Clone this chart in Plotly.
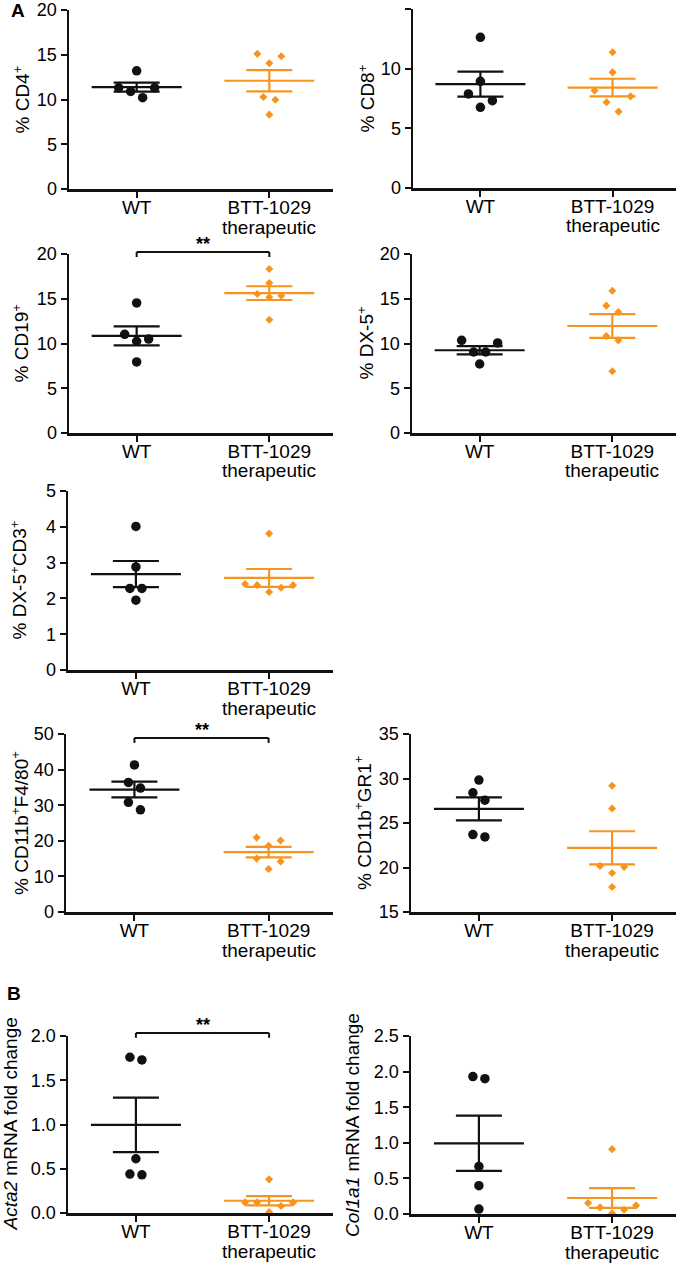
import numpy as np
import plotly.graph_objects as go

W, H = 686, 1288
BLACK = "#111111"
ORANGE = "#F7941D"
FONT = "Liberation Sans, Arial, Helvetica, sans-serif"

# ---------------- data ----------------
groups = ["WT", "BTT-1029"]
group_sub = ["", "therapeutic"]   # second line of the category label

cd4_wt = [13.2, 11.3, 11.3, 10.9, 10.2]
cd4_btt = [15.1, 14.84, 14.06, 10.28, 9.98, 8.31]
cd8_wt = [12.63, 8.94, 7.88, 7.32, 6.76]
cd8_btt = [11.37, 9.69, 8.16, 7.68, 7.18, 6.4]
cd19_wt = [14.53, 11.03, 10.5, 10.25, 7.94]
cd19_btt = [18.32, 16.76, 15.53, 15.34, 15.16, 12.66]
dx5_wt = [10.35, 10.06, 9.05, 9.05, 7.71]
dx5_btt = [15.9, 14.23, 13.52, 10.84, 10.35, 6.9]
dx5cd3_wt = [4.01, 2.88, 2.28, 2.28, 1.95]
dx5cd3_btt = [3.81, 2.4, 2.37, 2.37, 2.3, 2.18]
f480_wt = [41.3, 36.4, 34.8, 30.8, 28.7]
f480_btt = [20.9, 20.1, 18.6, 15.0, 14.2, 12.1]
gr1_wt = [29.82, 28.4, 27.57, 23.7, 23.44]
gr1_btt = [29.18, 26.63, 20.18, 20.07, 19.39, 17.81]
acta2_wt = [1.76, 1.73, 0.613, 0.44, 0.432]
acta2_btt = [0.38, 0.12, 0.12, 0.12, 0.08, 0.01]
col1a1_wt = [1.93, 1.90, 0.668, 0.397, 0.07]
col1a1_btt = [0.911, 0.154, 0.121, 0.093, 0.06, 0.01]

# ---------------- panel layout (page pixel boxes: x0, x1, ytop, ybottom) ----------------
panels = [
    dict(wt=cd4_wt, btt=cd4_btt, title="% CD4<sup>+</sup>", yr=[0, 20], dt=5, fmt="",
         box=(69, 333, 10, 189), tx=22),
    dict(wt=cd8_wt, btt=cd8_btt, title="% CD8<sup>+</sup>", yr=[0, 15], dt=5, fmt="",
         box=(413, 676, 9, 188), tx=366),
    dict(wt=cd19_wt, btt=cd19_btt, title="% CD19<sup>+</sup>", yr=[0, 20], dt=5, fmt="",
         box=(69, 333, 254, 433), tx=20, sig=(1.011, 0.983)),
    dict(wt=dx5_wt, btt=dx5_btt, title="% DX-5<sup>+</sup>", yr=[0, 20], dt=5, fmt="",
         box=(412, 676, 254, 433), tx=365),
    dict(wt=dx5cd3_wt, btt=dx5cd3_btt, title="% DX-5<sup>+</sup>CD3<sup>+</sup>", yr=[0, 5], dt=1, fmt="",
         box=(68, 333, 491, 670), tx=18),
    dict(wt=f480_wt, btt=f480_btt, title="% CD11b<sup>+</sup>F4/80<sup>+</sup>", yr=[0, 50], dt=10, fmt="",
         box=(66, 333, 734, 912), tx=20, sig=(0.978, 0.95)),
    dict(wt=gr1_wt, btt=gr1_btt, title="% CD11b<sup>+</sup>GR1<sup>+</sup>", yr=[15, 35], dt=5, fmt="",
         box=(411, 676, 734, 912), tx=363),
    dict(wt=acta2_wt, btt=acta2_btt, title="<i>Acta2</i> mRNA fold change", yr=[0, 2], dt=0.5, fmt=".1f",
         box=(68, 333, 1036, 1213), tx=10, sig=(1.017, 0.99)),
    dict(wt=col1a1_wt, btt=col1a1_btt, title="<i>Col1a1</i> mRNA fold change", yr=[0, 2.5], dt=0.5, fmt=".1f",
         box=(411, 676, 1036, 1214), tx=352),
]

XR = [-0.51, 1.48]


def fx(px):
    return px / W


def fy(py):
    return 1 - py / H


def swarm_offsets(vals, ppu, d=10.0, step=12.0):
    """Prism-like column scatter: points closer than d px share a row and are spread."""
    idx = sorted(range(len(vals)), key=lambda i: -vals[i])
    clusters, cur = [], [idx[0]]
    for a, b in zip(idx, idx[1:]):
        if (vals[a] - vals[b]) * ppu < d:
            cur.append(b)
        else:
            clusters.append(cur)
            cur = [b]
    clusters.append(cur)
    offs = [0.0] * len(vals)
    for cl in clusters:
        n = len(cl)
        pos = [(k - (n - 1) / 2) * step for k in range(n)]
        pos_sorted = sorted(pos, key=lambda p: (-abs(p), p))
        for i, p in zip(cl, pos_sorted):
            offs[i] = p
    return offs


fig = go.Figure()
layout = dict(
    width=W, height=H, margin=dict(l=0, r=0, t=0, b=0, pad=0, autoexpand=False),
    paper_bgcolor="white", plot_bgcolor="white", showlegend=False,
    font=dict(family=FONT, color="black"),
)
annotations, shapes = [], []

for k, p in enumerate(panels):
    n = k + 1
    xs = "" if n == 1 else str(n)
    xa, ya = "x" + xs, "y" + xs
    x0, x1, yt, yb = p["box"]
    xppu = (x1 - x0) / (XR[1] - XR[0])
    yppu = (yb - yt) / (p["yr"][1] - p["yr"][0])

    layout["xaxis" + xs] = dict(
        domain=[fx(x0), fx(x1)], range=XR, anchor=ya, automargin=False,
        tickvals=[0, 1], ticktext=groups, ticks="outside", ticklen=6, tickwidth=2,
        ticklabelstandoff=-6,
        tickcolor=BLACK, showline=True, linewidth=2.5, linecolor=BLACK,
        showgrid=False, zeroline=False, fixedrange=True,
        tickfont=dict(size=19, family=FONT, color="black"),
    )
    layout["yaxis" + xs] = dict(
        domain=[fy(yb), fy(yt)], range=p["yr"], anchor=xa, automargin=False,
        dtick=p["dt"], tick0=p["yr"][0], tickformat=p["fmt"], ticks="outside", ticklen=6,
        tickwidth=2, tickcolor=BLACK, showline=True, linewidth=2.5, linecolor=BLACK,
        showgrid=False, zeroline=False, fixedrange=True,
        tickfont=dict(size=18, family=FONT, color="black"),
    )

    # second line of category labels
    for gi, sub in enumerate(group_sub):
        if sub:
            annotations.append(dict(
                text=sub, xref=xa, yref="paper", x=gi, y=fy(yb + 38),
                xanchor="center", yanchor="middle", showarrow=False,
                font=dict(size=19, family=FONT, color="black")))

    for gi, (vals, col, sym, size) in enumerate([(p["wt"], BLACK, "circle", 9.5),
                                                 (p["btt"], ORANGE, "diamond", 6.2)]):
        offs = swarm_offsets(vals, yppu)
        xpts = [gi + o / xppu for o in offs]
        fig.add_trace(go.Scatter(
            x=xpts, y=vals, mode="markers", xaxis=xa, yaxis=ya, cliponaxis=False,
            marker=dict(symbol=sym, size=size, color=col, line=dict(width=0)),
            hoverinfo="skip"))
        arr = np.array(vals, dtype=float)
        m = arr.mean()
        s = arr.std(ddof=1) / np.sqrt(len(arr))
        hw = 45 / xppu
        cw = 23 / xppu
        fig.add_trace(go.Scatter(
            x=[gi - hw, gi + hw, None, gi, gi, None, gi - cw, gi + cw, None, gi - cw, gi + cw],
            y=[m, m, None, m - s, m + s, None, m + s, m + s, None, m - s, m - s],
            mode="lines", xaxis=xa, yaxis=ya, cliponaxis=False,
            line=dict(color=col, width=2.2), hoverinfo="skip"))

    # y-axis title
    annotations.append(dict(
        text=p["title"], textangle=-90, xref="paper", yref="paper",
        x=fx(p["tx"]), y=fy((yt + yb) / 2), xanchor="center", yanchor="middle",
        showarrow=False, font=dict(size=19, family=FONT, color="black")))

    if "sig" in p:
        ytop, ytick = p["sig"]
        yd = ya + " domain"
        for sx0, sy0, sx1, sy1 in [(0, ytick, 0, ytop), (0, ytop, 1, ytop), (1, ytop, 1, ytick)]:
            shapes.append(dict(type="line", xref=xa, yref=yd, x0=sx0, y0=sy0, x1=sx1, y1=sy1,
                               line=dict(color=BLACK, width=2)))
        annotations.append(dict(
            text="<b>**</b>", xref=xa, yref=yd, x=0.5, y=ytop, yanchor="bottom", xanchor="center",
            yshift=-4, showarrow=False, font=dict(size=18, family=FONT, color="black")))

annotations.append(dict(text="<b>A</b>", xref="paper", yref="paper", x=fx(17.5), y=fy(11),
                        xanchor="center", yanchor="middle", showarrow=False,
                        font=dict(size=19, family=FONT, color="black")))
annotations.append(dict(text="<b>B</b>", xref="paper", yref="paper", x=fx(14), y=fy(993),
                        xanchor="center", yanchor="middle", showarrow=False,
                        font=dict(size=19, family=FONT, color="black")))

layout["annotations"] = annotations
layout["shapes"] = shapes
fig.update_layout(**layout)
# remove the browser's default 8px body margin so the figure fills the window exactly
fig.write_html("out.html",
               config={"displayModeBar": False, "staticPlot": True},
               post_script="document.body.style.margin='0px';document.body.style.overflow='hidden';")
